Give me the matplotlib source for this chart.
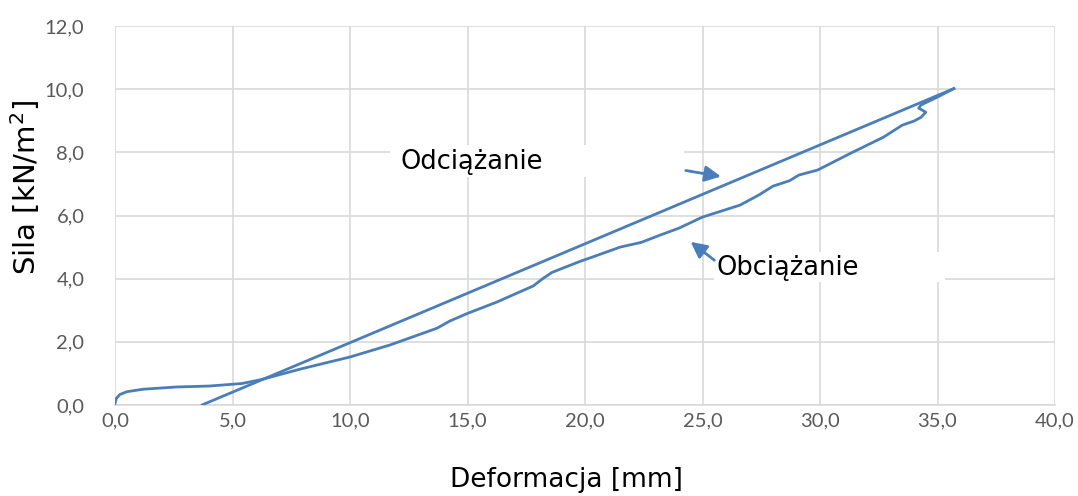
import matplotlib
matplotlib.use("Agg")
import matplotlib.pyplot as plt
from matplotlib.patches import Rectangle

# Data
x_unload = [3.7, 35.7]
y_unload = [0.0, 10.02]

x_load = [0.0, 0.05, 0.2, 0.5, 1.2, 2.6, 4.0, 5.4, 6.2, 7.9, 10.0, 11.7, 13.7, 14.25,
          15.0, 16.25, 17.8, 18.2, 18.6, 19.8, 20.3, 21.5, 22.4, 23.2, 24.0, 25.0,
          26.6, 27.4, 28.0, 28.7, 29.1, 29.9, 31.3, 32.7, 33.5, 34.0, 34.3, 34.5,
          34.2, 34.3, 35.0, 35.7]
y_load = [0.05, 0.2, 0.33, 0.42, 0.5, 0.57, 0.6, 0.68, 0.8, 1.14, 1.52, 1.9, 2.43, 2.66,
          2.9, 3.26, 3.77, 4.0, 4.2, 4.55, 4.68, 5.0, 5.15, 5.38, 5.6, 5.95,
          6.33, 6.65, 6.93, 7.1, 7.28, 7.44, 7.97, 8.48, 8.86, 8.99, 9.11, 9.27,
          9.4, 9.5, 9.75, 10.02]

x_ticks = [0, 5, 10, 15, 20, 25, 30, 35, 40]
y_ticks = [0, 2, 4, 6, 8, 10, 12]
x_ticklabels = ["0,0", "5,0", "10,0", "15,0", "20,0", "25,0", "30,0", "35,0", "40,0"]
y_ticklabels = ["0,0", "2,0", "4,0", "6,0", "8,0", "10,0", "12,0"]

label_unload = "Odciążanie"
label_load = "Obciążanie"
xlabel = "Deformacja [mm]"
ylabel = "Sila [kN/m$^2$]"

line_color = "#4a7ebb"
grid_color = "#d9d9d9"
tick_color = "#595959"

W, H = 1078, 496
fig = plt.figure(figsize=(W / 100, H / 100), dpi=100)
ax = fig.add_axes([115 / W, 1 - 405 / H, (1055 - 115) / W, (405 - 26) / H])

ax.set_xlim(0, 40)
ax.set_ylim(0, 12)
ax.set_xticks(x_ticks)
ax.set_yticks(y_ticks)
ax.set_xticklabels(x_ticklabels, family="Lato", fontsize=14.5, color=tick_color)
ax.set_yticklabels(y_ticklabels, family="Lato", fontsize=14.5, color=tick_color)
ax.tick_params(axis="both", length=0)
ax.tick_params(axis="x", pad=5)
ax.tick_params(axis="y", pad=22)
ax.grid(True, color=grid_color, lw=1.2)
ax.set_axisbelow(True)
for s in ax.spines.values():
    s.set_visible(False)
ax.spines["bottom"].set_visible(True)
ax.spines["bottom"].set_color(grid_color)
ax.spines["bottom"].set_linewidth(1.2)

ax.plot(x_unload, y_unload, color=line_color, lw=2, zorder=3, solid_capstyle="round")
ax.plot(x_load, y_load, color=line_color, lw=2, zorder=3, solid_joinstyle="round")

# white label boxes
ax.add_patch(Rectangle((11.7, 7.22), 24.2 - 11.7, 8.23 - 7.22, facecolor="white",
                       edgecolor="none", zorder=2))
ax.add_patch(Rectangle((25.5, 3.89), 35.3 - 25.5, 4.84 - 3.89, facecolor="white",
                       edgecolor="none", zorder=2))

ax.text(12.13, 7.69, label_unload, fontsize=18.5, family="DejaVu Sans",
        ha="left", va="center", zorder=4)
ax.text(25.6, 4.34, label_load, fontsize=18.5, family="DejaVu Sans",
        ha="left", va="center", zorder=4)

ax.annotate("", xy=(25.9, 7.22), xytext=(24.17, 7.44),
            arrowprops=dict(arrowstyle="-|>", color=line_color, lw=2, mutation_scale=24),
            zorder=4)
ax.annotate("", xy=(24.4, 5.22), xytext=(25.6, 4.53),
            arrowprops=dict(arrowstyle="-|>", color=line_color, lw=2, mutation_scale=24),
            zorder=4)

fig.text(566 / W, 1 - 480 / H, xlabel, fontsize=19, family="DejaVu Sans",
         ha="center", va="center")
fig.text(25 / W, 1 - 188 / H, ylabel, fontsize=21, family="DejaVu Sans",
         ha="center", va="center", rotation=90)

fig.savefig("out.png", dpi=100)
